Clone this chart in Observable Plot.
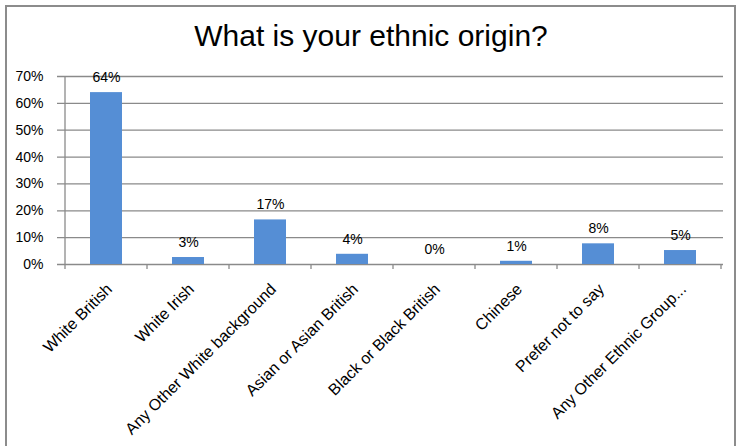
<!DOCTYPE html>
<html>
<head>
<meta charset="utf-8">
<script src="https://cdn.jsdelivr.net/npm/d3@7"></script>
<script src="https://cdn.jsdelivr.net/npm/@observablehq/plot@0.6"></script>
<style>
  html, body { margin: 0; padding: 0; background: #fff; }
  #wrap { position: relative; width: 742px; height: 446px; overflow: hidden; background: #fff; }
  #frame { position: absolute; left: 5px; top: 5px; width: 731px; height: 460px; border: 2px solid #8c8c8c; box-sizing: border-box; pointer-events: none; }
  #title { position: absolute; left: 0; top: 0; width: 742px; height: 60px; text-align: center;
           font-family: "Liberation Sans", Arial, sans-serif; font-size: 30px; line-height: 72px; color: #000; }
  #chart { position: absolute; left: 0; top: 60px; }
</style>
</head>
<body>
<div id="wrap">
  <div id="title">What is your ethnic origin?</div>
  <div id="chart"></div>
  <div id="frame"></div>
</div>
<script>
const categories = ["White British", "White Irish", "Any Other White background", "Asian or Asian British", "Black or Black British", "Chinese", "Prefer not to say", "Any Other Ethnic Group..."];
const values = [64, 2.6, 16.6, 3.8, 0, 1.2, 7.7, 5.2];
const labels = ["64%", "3%", "17%", "4%", "0%", "1%", "8%", "5%"];
const yTicks = [0, 10, 20, 30, 40, 50, 60, 70];

const data = categories.map((c, i) => ({cat: c, v: values[i], label: labels[i]}));
const font = "'Liberation Sans', Arial, sans-serif";
const axisColor = "#8a8a8a";

// axis line on the left and category-boundary ticks, placed through Plot's scales
function axisFrame(index, scales, values, dimensions) {
  const {x, y} = scales;
  const bw = x.bandwidth ? x.bandwidth() : 0;
  const xs = categories.map(c => x(c) + bw / 2);
  const step = xs.length > 1 ? xs[1] - xs[0] : 0;
  const bounds = [xs[0] - step / 2, ...xs.map(v => v + step / 2)];
  const g = d3.create("svg:g").attr("stroke", axisColor).attr("stroke-width", 1.3);
  const y0 = y(0), yTop = y(d3.max(yTicks));
  g.append("line").attr("x1", bounds[0]).attr("x2", bounds[0]).attr("y1", y0).attr("y2", yTop);
  for (const b of bounds) {
    g.append("line").attr("x1", b).attr("x2", b).attr("y1", y0).attr("y2", y0 + 5);
  }
  return g.node();
}

const chart = Plot.plot({
  width: 742,
  height: 386,
  marginTop: 16,
  marginBottom: 182,
  marginLeft: 62,
  marginRight: 19,
  style: {fontFamily: font, fontSize: "14px", color: "#000", background: "transparent"},
  x: {domain: categories, paddingInner: 0.61, paddingOuter: 0.305, label: null, axis: null},
  y: {domain: [0, 70], label: null},
  marks: [
    Plot.ruleY(yTicks, {stroke: axisColor, strokeWidth: 1.3, strokeOpacity: 1, insetLeft: -5}),
    Plot.barY(data, {x: "cat", y: "v", fill: "#558ed5"}),
    axisFrame,
    Plot.axisY({ticks: yTicks, tickFormat: d => d + "%", tickSize: 0, tickPadding: 19, fontSize: 14, fill: "#000"}),
    Plot.text(data, {x: "cat", y: 0, text: "cat", rotate: -45, textAnchor: "end", dx: 3, dy: 22, fontSize: 16, fill: "#000"}),
    Plot.text(data, {x: "cat", y: "v", text: "label", dy: -15, fontSize: 14, fill: "#000"})
  ]
});

document.getElementById("chart").appendChild(chart);
</script>
</body>
</html>
